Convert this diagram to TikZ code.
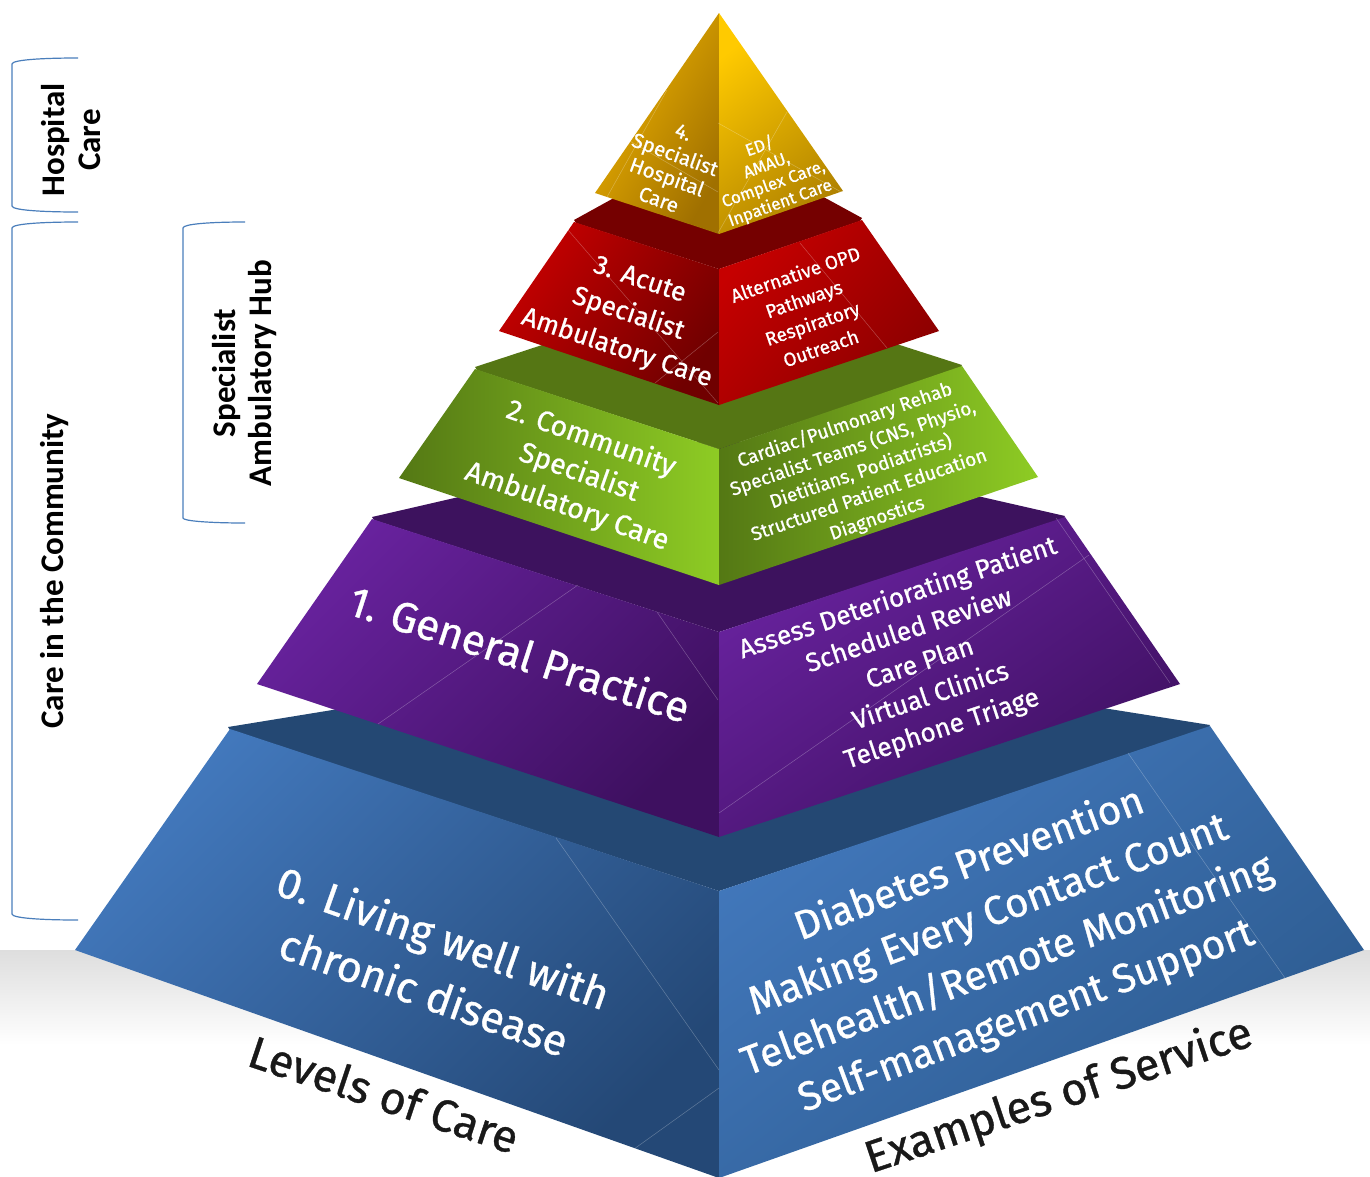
\documentclass[tikz,border=0pt]{standalone}
\usepackage{fontspec}
\setmainfont{Fira Sans}[UprightFeatures={FakeBold=0.8}]
\newfontfamily\sidefont{Carlito}
\definecolor{goldA}{RGB}{240,180,0}
\definecolor{goldB}{RGB}{160,112,0}
\definecolor{goldC}{RGB}{255,202,0}
\definecolor{goldD}{RGB}{176,130,0}
\definecolor{redA}{RGB}{198,0,0}
\definecolor{redB}{RGB}{112,0,0}
\definecolor{redC}{RGB}{139,0,0}
\definecolor{redS}{RGB}{117,0,0}
\definecolor{greenA}{RGB}{84,120,20}
\definecolor{greenB}{RGB}{142,204,36}
\definecolor{greenS}{RGB}{85,118,20}
\definecolor{purpA}{RGB}{104,34,158}
\definecolor{purpB}{RGB}{62,16,96}
\definecolor{purpS}{RGB}{61,18,94}
\definecolor{blueA}{RGB}{66,120,188}
\definecolor{blueB}{RGB}{36,72,118}
\definecolor{blueC}{RGB}{44,90,142}
\definecolor{blueS}{RGB}{36,72,115}
\definecolor{bracketblue}{RGB}{74,126,187}
\tikzset{
  facetext/.style 2 args={align=center,text=white,inner sep=0pt,font=\fontsize{#1}{#2}\selectfont},
  basetext/.style={align=center,text=black!90,inner sep=0pt,font=\fontsize{45}{50}\selectfont},
  sidetext/.style={align=center,text=black,inner sep=0pt,rotate=90,font=\sidefont\bfseries\fontsize{33}{35.5}\selectfont},
  bracket/.style={draw=bracketblue,line width=1.2pt},
  seam/.style={draw=white,opacity=0.28,line width=0.5pt}
}
\begin{document}
\begin{tikzpicture}[x=1pt,y=-1pt]
  \useasboundingbox (0,0) rectangle (1370,1176);
  % floor
  \shade[top color=black!13,bottom color=white] (0,950) rectangle (1370,1045);
  % dark shelves under each block
  \foreach \ax/\ay/\bx/\by/\fy/\c in {228/727/1210/725/891/blue,372/517/1065/516/632/purp,475/367/962/365/449/green,574/220/862/218/269/red}
  {
    \fill[\c S] (\ax,\ay) -- (\ax+2,\ay+3) -- (719,\fy) -- (\bx-2,\by+3) -- (\bx,\by) -- (719,\ay-80) -- cycle;
  }
  \shade[left color=blueA,right color=blueB,shading angle=45] (230,729) -- (75,950) -- (719,1178) -- (719,891) -- cycle;
  \shade[left color=blueA,right color=blueC,shading angle=38] (719,891) -- (1210,726) -- (1364,950) -- (719,1178) -- cycle;
  \shade[left color=purpA,right color=purpB,shading angle=45] (372,519) -- (257,684) -- (719,837) -- (719,632) -- cycle;
  \shade[left color=purpA,right color=purpB,shading angle=35] (719,632) -- (1065,517) -- (1180,684) -- (719,837) -- cycle;
  \shade[left color=greenA,right color=greenB] (475,369) -- (399,478) -- (719,585) -- (719,449) -- cycle;
  \shade[left color=greenA,right color=greenB] (719,449) -- (962,366) -- (1038,477) -- (719,585) -- cycle;
  \shade[left color=redA,right color=redB,shading angle=55] (574,222) -- (499,331) -- (719,405) -- (719,269) -- cycle;
  \shade[left color=redA,right color=redC,shading angle=50] (719,269) -- (862,220) -- (939,331) -- (719,405) -- cycle;
  \shade[left color=goldA,right color=goldB,shading angle=60] (719,13) -- (595,193) -- (719,234) -- cycle;
  \shade[left color=goldC,right color=goldD,shading angle=38] (719,13) -- (843,191) -- (719,234) -- cycle;
  % faint lines across the faces
  \foreach \xa/\ya/\xb/\yb in {607/197/667/90,628/140/718/192,718/123/843/193,718/233/787/112,
    568/230/718/403,800/243/887/348,655/383/718/332,
    578/585/378/724,657/612/718/700,1056/518/1170/683,1089/555/719/813,
    556/838/719/1070,634/1149/719/1088,1128/753/1285/978}
  {
    \draw[seam] (\xa,\ya) -- (\xb,\yb);
  }
  % labels on the faces
  \node[facetext={20.5}{24},rotate=-20] (hospleft) at (671,166) {4.\\Specialist\\Hospital\\Care};
  \node[facetext={17}{20},rotate=20] (hospright) at (770,175) {ED/\\AMAU,\\Complex Care,\\Inpatient Care};
  \node[facetext={26.5}{36},rotate=-18.5] (acuteleft) at (628,315) {3. Acute\\Specialist\\Ambulatory Care};
  \node[facetext={19}{26},rotate=19] (acuteright) at (808,311) {Alternative OPD\\Pathways\\Respiratory\\Outreach};
  \node[facetext={28.5}{36},rotate=-19.5] (commleft) at (579,473) {2. Community\\Specialist\\Ambulatory Care};
  \node[facetext={19}{24.7},rotate=19] (commright) at (861,472) {Cardiac/Pulmonary Rehab\\Specialist Teams (CNS, Physio,\\Dietitians, Podiatrists)\\Structured Patient Education\\Diagnostics};
  \node[facetext={42.5}{48},rotate=-18] (gpleft) at (520,653) {1. General Practice};
  \node[facetext={26.3}{34.5},rotate=18.5] (gpright) at (920,664) {Assess Deteriorating Patient\\Scheduled Review\\Care Plan\\Virtual Clinics\\Telephone Triage};
  \node[facetext={43}{58},rotate=-19.5] (livingleft) at (434,964) {0. Living well with\\chronic disease};
  \node[facetext={40.5}{54},rotate=20.5] (livingright) at (998,941) {Diabetes Prevention\\Making Every Contact Count\\Telehealth/Remote Monitoring\\Self-management Support};
  \node[basetext,rotate=-18.5] (levels) at (384,1094) {Levels of Care};
  \node[basetext,rotate=18.5] (examples) at (1059,1097) {Examples of Service};
  % brackets on the left
  \draw[bracket] (78,58) .. controls (40,58) and (12,60) .. (12,64) -- (12,206) .. controls (12,210) and (40,212) .. (78,212);
  \draw[bracket] (78,222) .. controls (40,222) and (12,224) .. (12,228) -- (12,914) .. controls (12,918) and (40,920) .. (78,920);
  \draw[bracket] (245,222) .. controls (210,222) and (183,224) .. (183,228) -- (183,518) .. controls (183,521) and (210,523) .. (245,523);
  \node[sidetext] (hospital) at (71,140) {Hospital\\Care};
  \node[sidetext] (community) at (55,571) {Care in the Community};
  \node[sidetext] (hub) at (244.5,373) {Specialist\\Ambulatory Hub};
\end{tikzpicture}
\end{document}
